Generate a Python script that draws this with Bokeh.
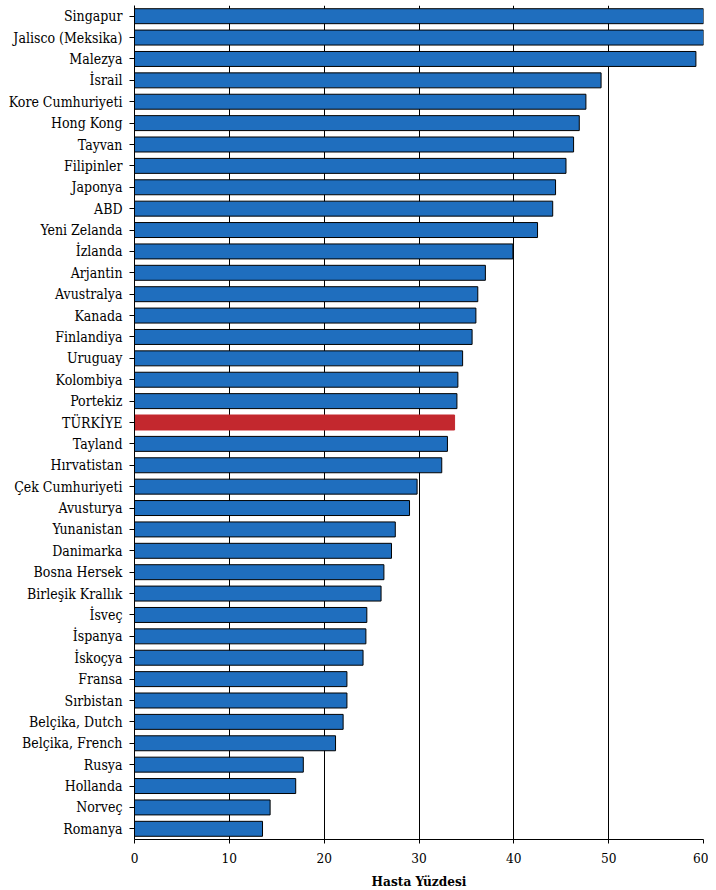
from bokeh.plotting import figure
from bokeh.models import ColumnDataSource, FactorRange, FixedTicker
from bokeh.embed import file_html
from bokeh.resources import INLINE

countries = ["Singapur", "Jalisco (Meksika)", "Malezya", "İsrail", "Kore Cumhuriyeti",
             "Hong Kong", "Tayvan", "Filipinler", "Japonya", "ABD", "Yeni Zelanda",
             "İzlanda", "Arjantin", "Avustralya", "Kanada", "Finlandiya", "Uruguay",
             "Kolombiya", "Portekiz", "TÜRKİYE", "Tayland", "Hırvatistan",
             "Çek Cumhuriyeti", "Avusturya", "Yunanistan", "Danimarka", "Bosna Hersek",
             "Birleşik Krallık", "İsveç", "İspanya", "İskoçya", "Fransa", "Sırbistan",
             "Belçika, Dutch", "Belçika, French", "Rusya", "Hollanda", "Norveç", "Romanya"]
values = [60.0, 60.0, 59.2, 49.2, 47.6, 46.9, 46.3, 45.5, 44.4, 44.1, 42.5,
          39.9, 37.0, 36.2, 36.0, 35.6, 34.6, 34.1, 34.0, 33.75, 33.0, 32.4,
          29.8, 29.0, 27.5, 27.1, 26.3, 26.0, 24.5, 24.4, 24.1, 22.4, 22.4,
          22.0, 21.2, 17.8, 17.0, 14.3, 13.5]
highlight = "TÜRKİYE"
x_ticks = [0, 10, 20, 30, 40, 50, 60]

BLUE = "#1F6EBE"
RED = "#C3282E"
fills = [RED if c == highlight else BLUE for c in countries]
lines = [RED if c == highlight else "black" for c in countries]

src = ColumnDataSource(dict(country=countries, value=values, fill=fills, line=lines))

p = figure(y_range=FactorRange(*reversed(countries)), x_range=(0, 60),
           frame_width=569, frame_height=834,
           min_border_left=134, min_border_right=5, min_border_top=5, min_border_bottom=0,
           output_backend="svg", toolbar_location=None)

p.hbar(y="country", right="value", left=0, height=0.7, source=src,
       fill_color="fill", line_color="line", line_width=1)

p.outline_line_color = None
p.background_fill_color = "white"
p.border_fill_color = "white"

p.ygrid.grid_line_color = None
p.xgrid.grid_line_color = "black"
p.xgrid.grid_line_width = 1
p.xgrid.grid_line_alpha = 1

font = "DejaVu Serif Condensed"
p.xaxis.ticker = FixedTicker(ticks=x_ticks)
p.xaxis.axis_line_color = "black"
p.xaxis.major_tick_in = 0
p.xaxis.major_tick_out = 4
p.xaxis.minor_tick_line_color = None
p.xaxis.major_label_text_font = font
p.xaxis.major_label_text_font_size = "13.5px"
p.xaxis.major_label_text_color = "black"
p.xaxis.major_label_standoff = 9
p.xaxis.axis_label = "Hasta Yüzdesi"
p.xaxis.axis_label_text_font = font
p.xaxis.axis_label_text_font_style = "bold"
p.xaxis.axis_label_text_font_size = "13.5px"
p.xaxis.axis_label_text_color = "black"
p.xaxis.axis_label_standoff = 7

p.yaxis.axis_line_color = "black"
p.yaxis.major_tick_in = 0
p.yaxis.major_tick_out = 5
p.yaxis.major_label_text_font = font
p.yaxis.major_label_text_font_size = "14px"
p.yaxis.major_label_text_color = "black"
p.yaxis.major_label_standoff = 7

open("out.html", "w").write(file_html(p, INLINE))
